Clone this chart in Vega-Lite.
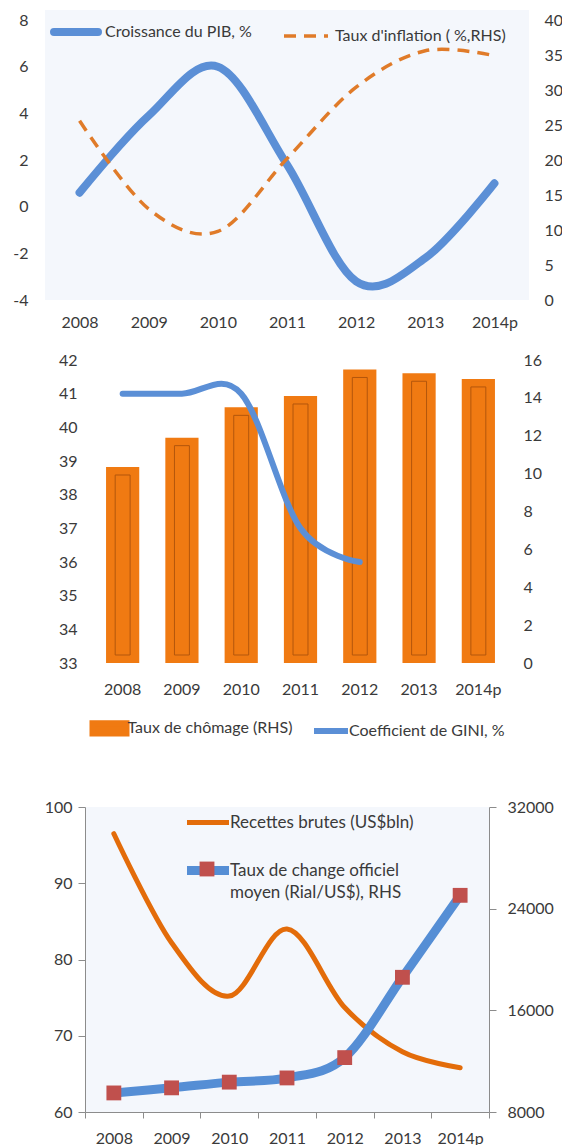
{
  "$schema": "https://vega.github.io/schema/vega-lite/v6.json",
  "padding": {"left": 12, "top": 10, "right": 5, "bottom": 3},
  "background": "white",
  "bounds": "flush",
  "center": true,
  "spacing": 45,
  "config": {
    "font": "Lato",
    "view": {"stroke": null},
    "axis": {"labelFont": "Lato", "labelFontSize": 16, "labelColor": "#3a3a3a", "grid": false, "title": null, "domain": false, "ticks": false},
    "legend": {"labelFont": "Lato", "labelFontSize": 16, "labelColor": "#3a3a3a", "title": null, "orient": "none", "padding": 0, "labelLimit": 400}
  },
  "datasets": {
    "d": [
      {"year": "2008", "pib": 0.6, "infl": 25.6, "chom": 10.35, "gini": 41.0, "rec": 96.5, "change": 9500},
      {"year": "2009", "pib": 3.9, "infl": 13.0, "chom": 11.9, "gini": 41.0, "rec": 82.2, "change": 9900},
      {"year": "2010", "pib": 6.0, "infl": 9.8, "chom": 13.5, "gini": 41.0, "rec": 75.2, "change": 10350},
      {"year": "2011", "pib": 1.8, "infl": 20.2, "chom": 14.1, "gini": 37.0, "rec": 84.0, "change": 10680},
      {"year": "2012", "pib": -3.2, "infl": 30.4, "chom": 15.5, "gini": 36.0, "rec": 73.7, "change": 12280},
      {"year": "2013", "pib": -2.2, "infl": 35.6, "chom": 15.3, "gini": null, "rec": 67.9, "change": 18600},
      {"year": "2014p", "pib": 1.0, "infl": 34.9, "chom": 15.0, "gini": null, "rec": 65.8, "change": 25050}
    ]
  },
  "resolve": {"scale": {"color": "independent", "shape": "independent"}, "legend": {"color": "independent", "shape": "independent"}},
  "vconcat": [
    {
      "width": 484,
      "height": 290,
      "view": {"fill": "#f4f7fc", "stroke": null},
      "data": {"name": "d"},
      "encoding": {
        "x": {"field": "year", "type": "ordinal", "sort": null, "scale": {"type": "point", "padding": 0.5}, "axis": {"labelAngle": 0, "labelPadding": 14, "orient": "bottom"}}
      },
      "layer": [
        {
          "mark": {"type": "line", "interpolate": "cardinal", "strokeWidth": 8, "strokeCap": "round"},
          "encoding": {
            "y": {"field": "pib", "type": "quantitative", "scale": {"domain": [-4, 8], "range": [290, 10], "nice": false, "zero": false}, "axis": {"orient": "left", "values": [-4, -2, 0, 2, 4, 6, 8], "labelPadding": 17, "labelExpr": "'' + datum.value"}},
            "color": {
              "datum": "Croissance du PIB, %",
              "scale": {"domain": ["Croissance du PIB, %", "Taux d'inflation ( %,RHS)"], "range": ["#5b8fd6", "#e07b29"]},
              "legend": {
                "direction": "horizontal", "legendX": 23, "legendY": 14,
                "symbolType": "stroke", "symbolSize": 1936, "symbolStrokeWidth": 8,
                "labelOffset": 21, "columnPadding": 25,
                "encode": {"symbols": {"update": {
                  "strokeDash": {"signal": "datum.value == 'Croissance du PIB, %' ? [1,0] : [12,8]"},
                  "strokeWidth": {"signal": "datum.value == 'Croissance du PIB, %' ? 8 : 3.5"},
                  "strokeCap": {"signal": "datum.value == 'Croissance du PIB, %' ? 'round' : 'butt'"}
                }}}
              }
            }
          }
        },
        {
          "mark": {"type": "line", "interpolate": "cardinal", "strokeWidth": 3.5, "strokeDash": [12, 8]},
          "encoding": {
            "y": {"field": "infl", "type": "quantitative", "scale": {"domain": [0, 40], "range": [290, 10], "nice": false, "zero": false}, "axis": {"orient": "right", "values": [0, 5, 10, 15, 20, 25, 30, 35, 40], "labelPadding": 15}},
            "color": {"datum": "Taux d'inflation ( %,RHS)"}
          }
        }
      ],
      "resolve": {"scale": {"y": "independent"}}
    },
    {
      "width": 488,
      "height": 417,
      "data": {"name": "d"},
      "layer": [
        {
          "mark": {"type": "bar", "color": "#f07a12"},
          "encoding": {
            "x": {"field": "year", "type": "ordinal", "sort": null, "scale": {"type": "band", "range": [50, 465], "paddingInner": 0.44, "paddingOuter": 0.22}, "axis": {"labelAngle": 0, "offset": -99, "labelPadding": 18}},
            "y": {"field": "chom", "type": "quantitative", "scale": {"domain": [0, 16], "range": [318, 15], "nice": false}, "axis": {"orient": "right", "values": [0, 2, 4, 6, 8, 10, 12, 14, 16], "offset": -10, "labelPadding": 2}},
            "color": {
              "datum": "Taux de chômage (RHS)",
              "scale": {"domain": ["Taux de chômage (RHS)", "Coefficient de GINI, %"], "range": ["#f07a12", "#5b8fd6"]},
              "legend": {
                "direction": "horizontal", "legendX": 46.5, "legendY": 363,
                "symbolSize": 1156, "labelOffset": -2, "columnPadding": 8.5,
                "encode": {"symbols": {"update": {
                  "shape": {"signal": "datum.value == 'Taux de chômage (RHS)' ? 'M-1,-0.3H1V0.3H-1Z' : 'stroke'"},
                  "fill": {"signal": "datum.value == 'Taux de chômage (RHS)' ? '#f07a12' : 'transparent'"},
                  "stroke": {"signal": "datum.value == 'Taux de chômage (RHS)' ? 'transparent' : '#5b8fd6'"},
                  "strokeWidth": {"value": 6},
                  "opacity": {"value": 1}
                }}}
              }
            }
          }
        },
        {
          "mark": {"type": "bar", "filled": false, "color": "#b3560c", "strokeWidth": 1, "width": {"band": 0.45}, "yOffset": 8, "y2Offset": -8},
          "encoding": {
            "x": {"field": "year", "type": "ordinal", "sort": null},
            "y": {"field": "chom", "type": "quantitative", "stack": null, "scale": {"domain": [0, 16], "range": [318, 15], "nice": false}, "axis": null},
            "y2": {"datum": 0}
          }
        },
        {
          "mark": {"type": "line", "interpolate": "cardinal", "strokeWidth": 6, "strokeCap": "round"},
          "encoding": {
            "x": {"field": "year", "type": "ordinal", "sort": null, "bandPosition": 0.5},
            "y": {"field": "gini", "type": "quantitative", "scale": {"domain": [33, 42], "range": [318, 15], "nice": false, "zero": false}, "axis": {"orient": "left", "values": [33, 34, 35, 36, 37, 38, 39, 40, 41, 42], "offset": -36, "labelPadding": 2}},
            "color": {"datum": "Coefficient de GINI, %"}
          }
        }
      ],
      "resolve": {"scale": {"y": "independent"}}
    },
    {
      "width": 404,
      "height": 305,
      "view": {"fill": "#f4f7fc", "stroke": null},
      "data": {"name": "d"},
      "encoding": {
        "x": {"field": "year", "type": "ordinal", "sort": null, "bandPosition": 0.5, "scale": {"type": "band", "paddingInner": 0, "paddingOuter": 0}, "axis": {"labelAngle": 0, "domain": true, "ticks": true, "tickBand": "extent", "tickSize": 6, "domainColor": "#8c8c8c", "tickColor": "#8c8c8c", "labelPadding": 12}}
      },
      "layer": [
        {
          "mark": {"type": "line", "interpolate": "cardinal", "strokeWidth": 5, "strokeCap": "round"},
          "encoding": {
            "y": {"field": "rec", "type": "quantitative", "scale": {"domain": [60, 100], "nice": false, "zero": false}, "axis": {"orient": "left", "values": [60, 70, 80, 90, 100], "domain": true, "ticks": true, "tickSize": 7, "labelPadding": 6, "domainColor": "#8c8c8c", "tickColor": "#8c8c8c"}},
            "color": {
              "datum": "Recettes brutes (US$bln)",
              "scale": {"domain": ["Recettes brutes (US$bln)", "Taux de change officiel moyen (Rial/US$), RHS"], "range": ["#e36c0a", "#558ed5"]},
              "legend": {
                "direction": "vertical", "legendX": 114.5, "legendY": 7,
                "symbolType": "stroke", "symbolSize": 1764, "rowPadding": 19, "labelOffset": 13.5, "labelFontSize": 17,
                "labelExpr": "datum.label == 'Recettes brutes (US$bln)' ? datum.label : ['Taux de change officiel', 'moyen (Rial/US$), RHS']",
                "encode": {
                  "symbols": {"update": {
                    "strokeWidth": {"signal": "datum.value == 'Recettes brutes (US$bln)' ? 5 : 9"},
                    "opacity": {"value": 1}
                  }},
                  "labels": {"update": {"lineHeight": {"value": 22}}}
                }
              }
            }
          }
        },
        {
          "layer": [
            {
              "mark": {"type": "line", "interpolate": "cardinal", "strokeWidth": 9},
              "encoding": {
                "y": {"field": "change", "type": "quantitative", "scale": {"domain": [8000, 32000], "nice": false, "zero": false}, "axis": {"orient": "right", "values": [8000, 16000, 24000, 32000], "format": "d", "domain": true, "ticks": true, "tickSize": 7, "labelPadding": 11, "domainColor": "#8c8c8c", "tickColor": "#8c8c8c"}},
                "color": {"datum": "Taux de change officiel moyen (Rial/US$), RHS"}
              }
            },
            {
              "mark": {"type": "point", "filled": true, "size": 220, "color": "#c0504d", "opacity": 1},
              "encoding": {
                "y": {"field": "change", "type": "quantitative"},
                "shape": {"datum": "m", "scale": {"range": ["square"]}, "legend": {"legendX": 114, "legendY": 54, "labelExpr": "''", "symbolSize": 220, "symbolFillColor": "#c0504d", "symbolStrokeWidth": 0, "symbolOpacity": 1}}
              }
            }
          ]
        }
      ],
      "resolve": {"scale": {"y": "independent"}}
    }
  ]
}
